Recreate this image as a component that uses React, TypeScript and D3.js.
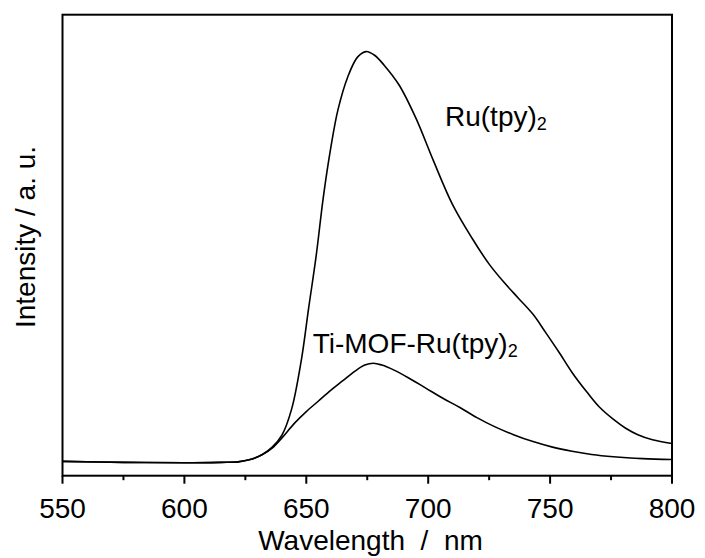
import React from "react";
import * as d3 from "d3";

// Emission spectra (wavelength in nm, intensity in arbitrary units)
const ruWavelength = [550, 575, 600, 615, 622, 627, 632, 636, 640, 644, 648, 651, 654, 657, 660, 663, 667, 671, 674.5, 678, 682, 688, 695, 702, 710, 718, 725, 731, 737, 743, 748, 754, 759, 765, 770, 776, 781, 786, 792, 800];
const ruIntensity = [3.1, 2.9, 2.8, 2.9, 3.0, 3.5, 4.6, 6.2, 8.8, 14.5, 25.2, 36.5, 47.5, 60.5, 71.0, 79.4, 86.5, 90.8, 92.0, 91.2, 89.0, 84.8, 77.5, 68.5, 58.8, 51.5, 45.9, 42.0, 38.5, 35.0, 31.2, 26.5, 22.4, 18.2, 15.0, 12.2, 10.3, 8.9, 7.8, 7.0];

const mofWavelength = [550, 575, 600, 615, 622, 627, 632, 636, 640, 645, 650, 655, 660, 665, 670, 674, 677.5, 681, 686, 692, 699, 706, 713, 720, 727, 735, 743, 751, 759, 767, 776, 788, 800];
const mofIntensity = [3.1, 2.9, 2.8, 2.9, 3.0, 3.5, 4.6, 6.0, 8.2, 11.3, 13.9, 16.2, 18.5, 20.6, 22.7, 24.0, 24.4, 24.0, 22.9, 21.2, 19.0, 16.8, 14.8, 12.6, 10.7, 8.9, 7.4, 6.2, 5.3, 4.6, 4.1, 3.7, 3.5];

const majorTicks = [550, 600, 650, 700, 750, 800];
const minorTicks = [575, 625, 675, 725, 775];

const W = 705;
const H = 558;
const left = 62.5;
const right = 672;
const top = 14.7;
const bottom = 475.7;
const font = "'Liberation Sans', Arial, sans-serif";

export default function App() {
  const x = d3.scaleLinear().domain([550, 800]).range([left, right]);
  const y = d3.scaleLinear().domain([0, 100]).range([bottom, top]);

  const line = d3
    .line<[number, number]>()
    .x((d) => x(d[0]))
    .y((d) => y(d[1]))
    .curve(d3.curveCatmullRom.alpha(0.5));

  const ruPath = line(ruWavelength.map((w, i) => [w, ruIntensity[i]]) as [number, number][]) || "";
  const mofPath = line(mofWavelength.map((w, i) => [w, mofIntensity[i]]) as [number, number][]) || "";

  return (
    <svg width={W} height={H} style={{ position: "absolute", left: 0, top: 0, background: "#fff" }}>
      <rect x={0} y={0} width={W} height={H} fill="#fff" />
      <path d={ruPath} fill="none" stroke="#000" strokeWidth={1.6} />
      <path d={mofPath} fill="none" stroke="#000" strokeWidth={1.6} />

      {/* frame */}
      <rect x={left} y={top} width={right - left} height={bottom - top} fill="none" stroke="#000" strokeWidth={2} />

      {/* x ticks */}
      {majorTicks.map((t) => (
        <g key={"M" + t}>
          <line x1={x(t)} x2={x(t)} y1={bottom} y2={bottom + 8} stroke="#000" strokeWidth={2} />
          <text x={x(t)} y={518.3} textAnchor="middle" fontFamily={font} fontSize={28} fill="#000">
            {t}
          </text>
        </g>
      ))}
      {minorTicks.map((t) => (
        <line key={"m" + t} x1={x(t)} x2={x(t)} y1={bottom} y2={bottom + 4.5} stroke="#000" strokeWidth={2} />
      ))}

      <text x={370.5} y={550} textAnchor="middle" fontFamily={font} fontSize={28} fill="#000" style={{ whiteSpace: "pre" }}>
        {"Wavelength  /  nm"}
      </text>
      <text
        transform={`translate(35, 237) rotate(-90)`}
        textAnchor="middle"
        fontFamily={font}
        fontSize={28}
        fill="#000"
        style={{ whiteSpace: "pre" }}
      >
        {"Intensity / a. u."}
      </text>

      <text x={445} y={126} fontFamily={font} fontSize={28} fill="#000">
        Ru(tpy)
        <tspan fontSize={18} dy={4}>2</tspan>
      </text>
      <text x={312.7} y={353.3} fontFamily={font} fontSize={28} fill="#000">
        Ti-MOF-Ru(tpy)
        <tspan fontSize={18} dy={4}>2</tspan>
      </text>
    </svg>
  );
}
